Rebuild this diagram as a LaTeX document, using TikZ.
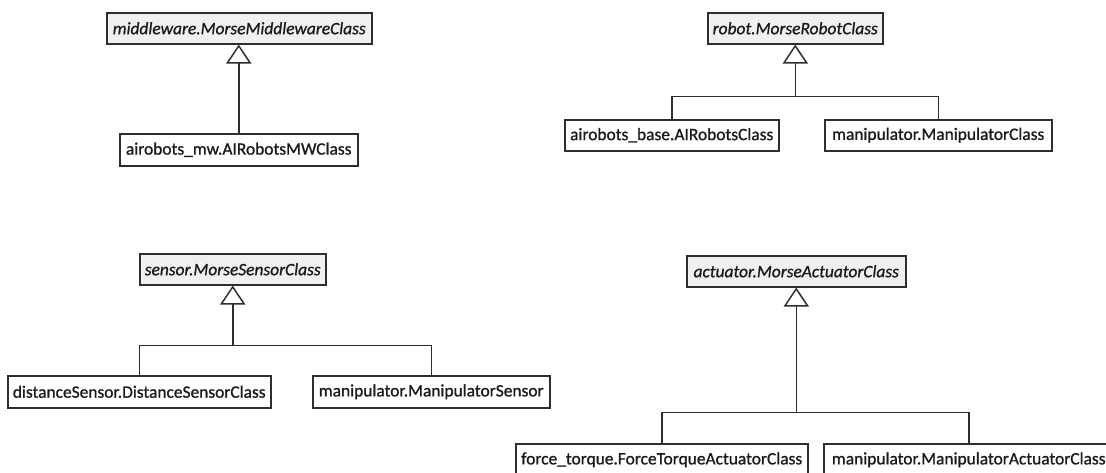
\documentclass[tikz,border=0pt]{standalone}
\usepackage{fontspec}
\setmainfont{Carlito}[FakeBold=0.9,AutoFakeBold=0.9]
\usetikzlibrary{arrows.meta,calc}
\definecolor{edge}{HTML}{2E2E2E}
\definecolor{absfill}{HTML}{F0F0F0}
\begin{document}
\begin{tikzpicture}[x=1pt,y=-1pt,
  cls/.style={draw=edge, line width=1.5pt, fill=white, anchor=north west,
    inner sep=0pt, text=black!90, font=\fontsize{17.4}{20}\selectfont\bfseries},
  abstract/.style={cls, fill=absfill, font=\fontsize{17.4}{20}\selectfont\bfseries\itshape},
  link/.style={draw=edge, line width=1.5pt},
  inherit/.style={link, -{Triangle[open, width=25pt, length=19pt, line width=1.5pt]}}]
\useasboundingbox (0,0) rectangle (1106,472);
\clip (0,0) rectangle (1106,472);

% middleware hierarchy
\node[abstract, minimum width=265pt, minimum height=31pt] (mw) at (106,12) {middleware.MorseMiddlewareClass};
\node[cls, minimum width=238pt, minimum height=32pt] (airmw) at (119,133) {airobots\_mw.AIRobotsMWClass};
\draw[inherit] (airmw.north) -- (airmw.north |- mw.south);

% robot hierarchy
\node[abstract, minimum width=175pt, minimum height=31pt] (robot) at (707,12) {robot.MorseRobotClass};
\node[cls, minimum width=214pt, minimum height=31pt] (airbase) at (564,119) {airobots\_base.AIRobotsClass};
\node[cls, minimum width=227pt, minimum height=31pt] (manip) at (824,119) {manipulator.ManipulatorClass};
\coordinate (jrobot) at ($(robot.south)+(0,52)$);
\draw[inherit] (jrobot) -- (robot.south);
\draw[link] (airbase.north) |- (jrobot);
\draw[link] (manip.north) |- (jrobot);

% sensor hierarchy
\node[abstract, minimum width=186pt, minimum height=31pt] (sensor) at (139,253) {sensor.MorseSensorClass};
\node[cls, minimum width=263pt, minimum height=32pt] (dist) at (7,375) {distanceSensor.DistanceSensorClass};
\node[cls, minimum width=237pt, minimum height=32pt] (msens) at (312,375) {manipulator.ManipulatorSensor};
\coordinate (jsensor) at ($(sensor.south)+(0,60)$);
\draw[inherit] (jsensor) -- (sensor.south);
\draw[link] (dist.north) |- (jsensor);
\draw[link] (msens.north) |- (jsensor);

% actuator hierarchy
\node[abstract, minimum width=219pt, minimum height=31pt] (act) at (686,255) {actuator.MorseActuatorClass};
\node[cls, minimum width=292pt, minimum height=32pt] (ftorque) at (515,443) {force\_torque.ForceTorqueActuatorClass};
\node[cls, minimum width=290pt, minimum height=32pt] (mact) at (823,443) {manipulator.ManipulatorActuatorClass};
\coordinate (jact) at ($(act.south)+(0,125)$);
\draw[inherit] (jact) -- (act.south);
\draw[link] (ftorque.north) |- (jact);
\draw[link] (mact.north) |- (jact);
\end{tikzpicture}
\end{document}
